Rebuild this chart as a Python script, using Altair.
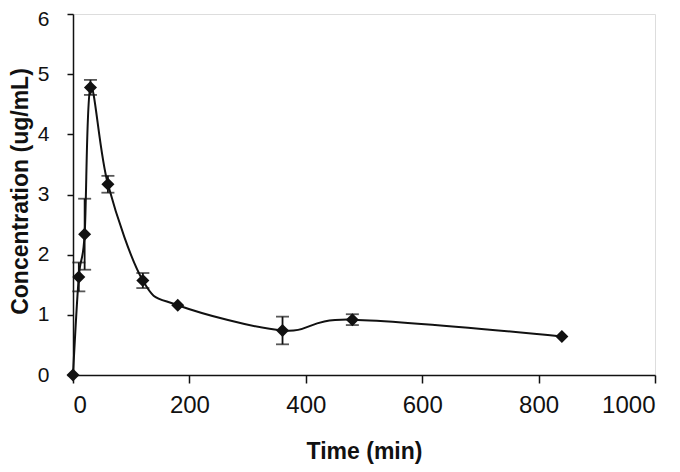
import altair as alt
import pandas as pd

time_min = [0, 10, 20, 30, 60, 120, 180, 360, 480, 840]
conc = [0, 1.63, 2.34, 4.78, 3.17, 1.57, 1.16, 0.74, 0.92, 0.64]
err = [0, 0.24, 0.59, 0.125, 0.14, 0.125, 0, 0.23, 0.09, 0]

df = pd.DataFrame({"t": time_min, "c": conc, "e": err})
df["lo"] = df["c"] - df["e"]
df["hi"] = df["c"] + df["e"]

x = alt.X("t:Q", scale=alt.Scale(domain=[0, 1000], nice=False),
          axis=alt.Axis(values=[0, 200, 400, 600, 800, 1000], format="d", title="Time (min)",
                        grid=False, tickSize=8, labelPadding=10,
                        labelFont="Liberation Sans", labelFontSize=24, labelColor="#111",
                        titleFont="Liberation Sans", titleFontSize=23, titleFontWeight="bold",
                        titleColor="#111", titleY=83, titleBaseline="alphabetic",
                        domainColor="#111", tickColor="#111", domainWidth=1.5, tickWidth=1.5))
y = alt.Y("c:Q", scale=alt.Scale(domain=[0, 6], nice=False),
          axis=alt.Axis(values=[0, 1, 2, 3, 4, 5, 6], format="d", title="Concentration  (ug/mL)",
                        grid=False, tickSize=6, labelPadding=18,
                        labelOffset={"condition": {"test": "datum.value == 6", "value": 5}, "value": 0},
                        labelFont="Liberation Sans", labelFontSize=21, labelColor="#111",
                        titleFont="Liberation Sans", titleFontSize=23, titleFontWeight="bold",
                        titleColor="#111", titleX=-53, titleY=177, titleAngle=-90,
                        titleAlign="center", titleBaseline="middle",
                        domainColor="#111", tickColor="#111", domainWidth=1.5, tickWidth=1.5))

base = alt.Chart(df)

line = base.mark_line(color="#111", strokeWidth=2, interpolate="cardinal").encode(x=x, y=y)

bars_df = base.transform_filter("datum.e > 0")
rules = bars_df.mark_rule(color="#111", strokeWidth=1.8).encode(
    x="t:Q", y="lo:Q", y2="hi:Q")
caps_hi = bars_df.mark_tick(color="#111", thickness=1.8, size=13, orient="horizontal").encode(
    x="t:Q", y="hi:Q")
caps_lo = bars_df.mark_tick(color="#111", thickness=1.8, size=13, orient="horizontal").encode(
    x="t:Q", y="lo:Q")

pts = base.mark_point(shape="diamond", filled=True, color="#111", size=170, opacity=1).encode(x=x, y=y)

chart = (line + rules + caps_hi + caps_lo + pts).properties(
    width=582, height=361,
    autosize=alt.AutoSizeParams(type="none"),
    padding={"left": 65, "top": 6, "right": 17, "bottom": 89},
).configure_view(stroke=None).configure(background="white")

chart.save("out.html", embed_options={"renderer": "svg", "actions": False})
